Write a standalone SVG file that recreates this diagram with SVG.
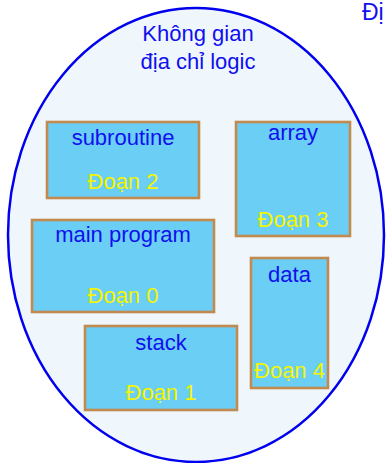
<svg xmlns="http://www.w3.org/2000/svg" width="388" height="463" viewBox="0 0 388 463">
<style>
.seg{fill:#6bcef5;stroke:#c28a4e;stroke-width:2.6}
text{font-family:"Liberation Sans",Arial,sans-serif;font-size:22px;text-anchor:middle}
.lb{fill:#1010ee}
.dn{fill:#f5f500}
</style>
<g id="space">
<ellipse cx="196" cy="235" rx="188" ry="227" fill="#eff7fd" stroke="#0000ee" stroke-width="2.5"/>
<text class="lb" x="198" y="41">Không gian</text>
<text class="lb" x="198" y="69">địa chỉ logic</text>
</g>
<text class="lb" x="362" y="20" style="text-anchor:start;font-size:23px">Đị</text>
<g id="subroutine">
<rect class="seg" x="47" y="122" width="152" height="76"/>
<text class="lb" x="123" y="145">subroutine</text>
<text class="dn" x="123" y="189">Đoạn 2</text>
</g>
<g id="array">
<rect class="seg" x="236" y="122" width="114" height="114"/>
<text class="lb" x="293" y="140">array</text>
<text class="dn" x="293" y="227">Đoạn 3</text>
</g>
<g id="main">
<rect class="seg" x="32" y="220" width="182" height="92"/>
<text class="lb" x="123" y="242">main program</text>
<text class="dn" x="123" y="303">Đoạn 0</text>
</g>
<g id="data">
<rect class="seg" x="251" y="258" width="77" height="130"/>
<text class="lb" x="289.5" y="282">data</text>
<text class="dn" x="289.5" y="378">Đoạn 4</text>
</g>
<g id="stack">
<rect class="seg" x="85" y="326" width="152" height="84"/>
<text class="lb" x="161" y="350">stack</text>
<text class="dn" x="161" y="400">Đoạn 1</text>
</g>
<g id="connectors"/>
</svg>
